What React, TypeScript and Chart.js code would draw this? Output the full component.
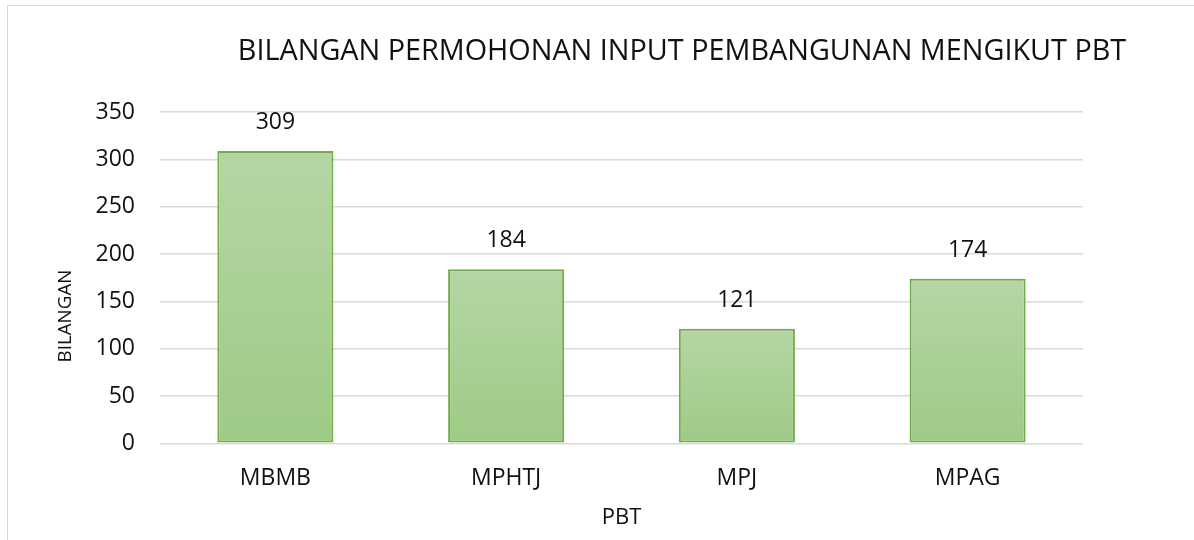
import React, { useEffect, useRef } from "react";
import { Chart, registerables } from "chart.js";

Chart.register(...registerables);

const categories = ["MBMB", "MPHTJ", "MPJ", "MPAG"];
const values = [309, 184, 121, 174];
const chartTitle = "BILANGAN PERMOHONAN INPUT PEMBANGUNAN MENGIKUT PBT";
const yAxisTitle = "BILANGAN";
const xAxisTitle = "PBT";
const yMin = 0;
const yMax = 350;
const yStep = 50;

const FONT = "'Open Sans', 'Noto Sans', sans-serif";
const TEXT = "#111111";

const dataLabelPlugin = {
  id: "dataLabels",
  afterDatasetsDraw(chart: any) {
    const ctx = chart.ctx;
    const meta = chart.getDatasetMeta(0);
    ctx.save();
    ctx.font = `23px ${FONT}`;
    ctx.fillStyle = TEXT;
    ctx.textAlign = "center";
    ctx.textBaseline = "middle";
    meta.data.forEach((bar: any, i: number) => {
      ctx.fillText(String(chart.data.datasets[0].data[i]), bar.x, bar.y - 28.5);
    });
    ctx.restore();
  },
};

const textPlugin = {
  id: "extraText",
  afterDraw(chart: any) {
    const ctx = chart.ctx;
    ctx.save();
    ctx.fillStyle = TEXT;
    ctx.textAlign = "center";
    ctx.textBaseline = "middle";
    // chart title
    ctx.font = `28.8px ${FONT}`;
    ctx.fillText(chartTitle, 682, 52);
    // y axis title
    ctx.font = `18.8px ${FONT}`;
    ctx.translate(66, 316);
    ctx.rotate(-Math.PI / 2);
    ctx.fillText(yAxisTitle, 0, 0);
    ctx.restore();
  },
};

export default function App() {
  const ref = useRef<HTMLCanvasElement | null>(null);
  useEffect(() => {
    if (!ref.current) return;
    const chart = new Chart(ref.current, {
      type: "bar",
      data: {
        labels: categories,
        datasets: [
          {
            data: values,
            backgroundColor: (c: any) => {
              const ch = c.chart;
              if (!ch.chartArea) return "#a9d18e";
              const y = ch.scales.y;
              const top = y.getPixelForValue(c.raw);
              const bot = y.getPixelForValue(0);
              const g = ch.ctx.createLinearGradient(0, top, 0, bot);
              g.addColorStop(0, "#b5d6a4");
              g.addColorStop(1, "#9fca86");
              return g;
            },
            borderColor: "#70ad47",
            borderWidth: 2,
            borderSkipped: false,
            categoryPercentage: 1,
            barPercentage: 0.503,
          },
        ],
      },
      options: {
        animation: false,
        responsive: true,
        maintainAspectRatio: false,
        devicePixelRatio: 1,
        layout: { padding: { left: 0, right: 111, top: 112.2, bottom: 0 } },
        plugins: {
          legend: { display: false },
          tooltip: { enabled: false },
          title: { display: false },
        },
        scales: {
          x: {
            grid: { display: false },
            border: { display: false },
            ticks: { color: TEXT, font: { family: FONT, size: 23 }, padding: 13 },
            title: {
              display: true,
              text: xAxisTitle,
              color: TEXT,
              font: { family: FONT, size: 22 },
              padding: { top: 0, bottom: 9 },
            },
            afterFit: (s: any) => {
              s.height = 96.7;
            },
          },
          y: {
            min: yMin,
            max: yMax,
            ticks: {
              stepSize: yStep,
              color: TEXT,
              font: { family: FONT, size: 23 },
              padding: 25,
            },
            grid: { color: "#d9d9d9", lineWidth: 1.5, drawTicks: false },
            border: { display: false },
            afterFit: (s: any) => {
              s.width = 160;
            },
          },
        },
      },
      plugins: [dataLabelPlugin, textPlugin],
    } as any);
    return () => chart.destroy();
  }, []);

  return (
    <div
      style={{
        position: "fixed",
        left: 0,
        top: 0,
        width: 1194,
        height: 540,
        overflow: "hidden",
        background: "#ffffff",
      }}
    >
      <div
        style={{
          position: "absolute",
          left: 7,
          top: 5,
          width: 2000,
          height: 1000,
          border: "1px solid #d9d9d9",
        }}
      />
      <div style={{ position: "absolute", left: 0, top: 0, width: 1194, height: 540 }}>
        <canvas ref={ref} />
      </div>
    </div>
  );
}
